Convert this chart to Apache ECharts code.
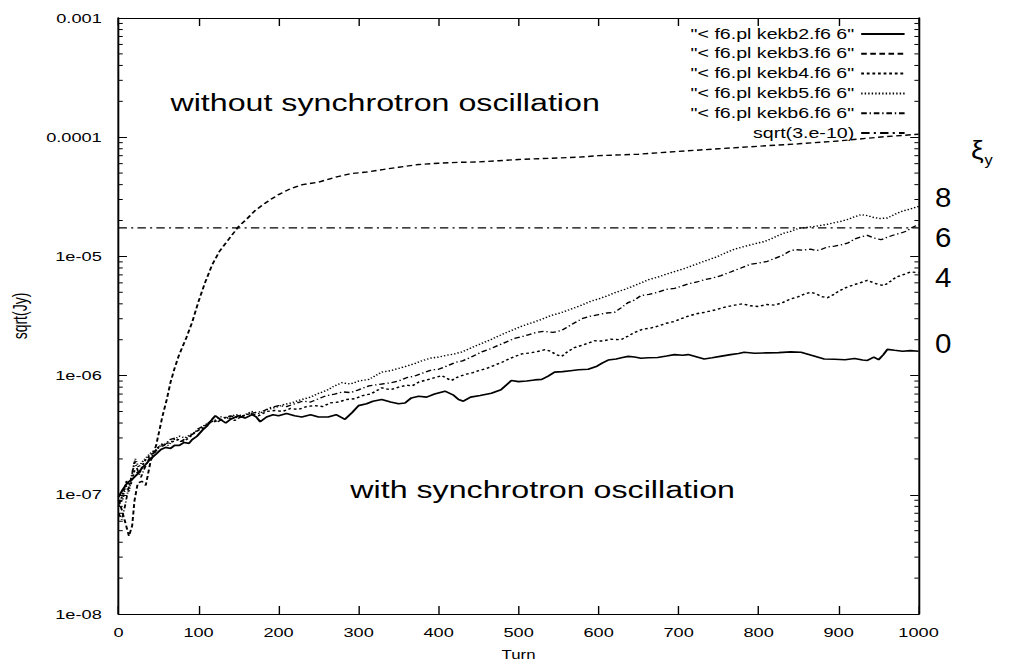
<!DOCTYPE html>
<html>
<head>
<meta charset="utf-8">
<script src="https://cdn.jsdelivr.net/npm/echarts@6/dist/echarts.min.js"></script>
<style>
  html, body { margin: 0; padding: 0; background: #fff; overflow: hidden; }
  /* the plot is laid out narrow and widened horizontally, like the printed figure */
  #chart { width: 722px; height: 671px; transform: scaleX(1.4003); transform-origin: 0 0; }
</style>
</head>
<body>
<div id="chart"></div>
<script>
// ---- data: sqrt(Jy) versus turn ----
const seriesNames = [
  '"< f6.pl kekb2.f6 6"',
  '"< f6.pl kekb3.f6 6"',
  '"< f6.pl kekb4.f6 6"',
  '"< f6.pl kekb5.f6 6"',
  '"< f6.pl kekb6.f6 6"',
  'sqrt(3.e-10)'
];

// xi_y = 0, with synchrotron oscillation
const kekb2 = [
  [0,9.6e-8],[5,1.1e-7],[11,1.26e-7],[17,1.35e-7],[24,1.5e-7],[30,1.7e-7],[34,1.8e-7],[40,2.0e-7],
  [47,2.2e-7],[53,2.4e-7],[59,2.5e-7],[65,2.45e-7],[70,2.6e-7],[76,2.6e-7],[82,2.75e-7],[88,2.7e-7],
  [92,2.9e-7],[98,3.1e-7],[105,3.5e-7],[111,3.8e-7],[117,4.3e-7],[121,4.6e-7],[127,4.3e-7],[134,4.0e-7],
  [140,4.3e-7],[150,4.6e-7],[158,4.4e-7],[167,4.7e-7],[172,4.5e-7],[177,4.1e-7],[185,4.5e-7],[193,4.7e-7],
  [200,4.6e-7],[210,4.8e-7],[220,4.6e-7],[229,4.5e-7],[240,4.7e-7],[250,4.5e-7],[262,4.5e-7],[272,4.7e-7],
  [283,4.3e-7],[292,4.9e-7],[300,5.6e-7],[310,5.8e-7],[318,6.1e-7],[329,6.3e-7],[340,6.0e-7],[350,5.8e-7],
  [358,5.9e-7],[366,6.5e-7],[375,6.7e-7],[385,6.6e-7],[395,7.0e-7],[408,7.4e-7],[418,6.9e-7],[425,6.3e-7],
  [431,6.1e-7],[440,6.6e-7],[452,6.8e-7],[466,7.1e-7],[478,7.6e-7],[491,9.1e-7],[500,8.9e-7],[510,9.0e-7],
  [520,9.2e-7],[529,9.3e-7],[537,9.9e-7],[545,1.07e-6],[555,1.08e-6],[565,1.1e-6],[575,1.12e-6],[587,1.13e-6],
  [598,1.2e-6],[605,1.28e-6],[612,1.35e-6],[622,1.38e-6],[630,1.42e-6],[637,1.45e-6],[645,1.43e-6],[653,1.4e-6],
  [662,1.41e-6],[674,1.42e-6],[685,1.46e-6],[695,1.5e-6],[705,1.48e-6],[712,1.5e-6],[722,1.44e-6],[732,1.38e-6],
  [742,1.41e-6],[752,1.45e-6],[765,1.5e-6],[775,1.53e-6],[782,1.57e-6],[795,1.54e-6],[810,1.55e-6],[825,1.56e-6],
  [840,1.58e-6],[853,1.57e-6],[866,1.48e-6],[882,1.38e-6],[895,1.37e-6],[908,1.36e-6],[920,1.39e-6],[930,1.35e-6],
  [936,1.34e-6],[944,1.43e-6],[950,1.36e-6],[956,1.5e-6],[961,1.66e-6],[970,1.63e-6],[980,1.6e-6],[990,1.62e-6],
  [1000,1.6e-6]
];

// without synchrotron oscillation
const kekb3 = [
  [0,9e-8],[4,7.5e-8],[8,6e-8],[13,4.5e-8],[17,5.5e-8],[20,9e-8],[24,1.25e-7],[29,1.3e-7],[34,1.2e-7],
  [40,1.9e-7],[47,2.6e-7],[55,4.6e-7],[60,6.2e-7],[65,8.8e-7],[70,1.15e-6],[75,1.45e-6],[80,1.75e-6],
  [85,2.1e-6],[92,2.8e-6],[100,4.2e-6],[108,6e-6],[117,8.5e-6],[126,1.1e-5],[138,1.4e-5],[150,1.78e-5],
  [160,2.05e-5],[170,2.4e-5],[180,2.7e-5],[190,3.0e-5],[200,3.3e-5],[215,3.7e-5],[230,4.0e-5],[250,4.2e-5],
  [270,4.6e-5],[290,4.95e-5],[310,5.1e-5],[330,5.35e-5],[350,5.6e-5],[375,5.9e-5],[400,6.05e-5],[425,6.15e-5],
  [450,6.2e-5],[475,6.35e-5],[500,6.5e-5],[525,6.6e-5],[550,6.7e-5],[575,6.8e-5],[600,7.0e-5],[650,7.2e-5],
  [700,7.6e-5],[750,8.0e-5],[800,8.4e-5],[850,8.8e-5],[900,9.3e-5],[950,1.0e-4],[1000,1.06e-4]
];

// xi_y = 4
const kekb4 = [
  [0,8e-8],[5,1.0e-7],[10,1.3e-7],[15,1.2e-7],[20,1.6e-7],[26,1.5e-7],[32,1.9e-7],[38,2.1e-7],[45,2.3e-7],
  [52,2.6e-7],[60,2.7e-7],[68,2.8e-7],[75,2.9e-7],[82,2.8e-7],[90,3.1e-7],[97,3.4e-7],[105,3.6e-7],[112,4.0e-7],
  [120,4.1e-7],[128,4.3e-7],[136,4.5e-7],[145,4.2e-7],[155,4.6e-7],[165,4.8e-7],[175,4.6e-7],[185,5.0e-7],
  [195,5.1e-7],[205,5.0e-7],[215,5.3e-7],[225,5.2e-7],[235,5.5e-7],[245,5.6e-7],[255,5.5e-7],[265,5.9e-7],
  [275,6.0e-7],[285,6.3e-7],[295,6.4e-7],[305,6.8e-7],[315,7.0e-7],[329,7.9e-7],[340,7.6e-7],[350,8.0e-7],
  [360,8.3e-7],[367,8.2e-7],[375,8.8e-7],[385,9.2e-7],[395,9.6e-7],[404,1.0e-6],[410,9.5e-7],[416,9.1e-7],
  [425,9.8e-7],[435,1.03e-6],[443,1.06e-6],[450,1.1e-6],[460,1.15e-6],[470,1.22e-6],[480,1.3e-6],[490,1.4e-6],
  [504,1.52e-6],[515,1.55e-6],[525,1.6e-6],[533,1.65e-6],[540,1.6e-6],[547,1.5e-6],[554,1.45e-6],[562,1.6e-6],
  [570,1.72e-6],[580,1.8e-6],[595,1.96e-6],[605,1.95e-6],[615,2.02e-6],[628,2.0e-6],[637,2.15e-6],[645,2.3e-6],
  [655,2.45e-6],[665,2.5e-6],[674,2.6e-6],[685,2.75e-6],[695,2.85e-6],[703,3.0e-6],[712,3.15e-6],[722,3.3e-6],
  [733,3.4e-6],[745,3.55e-6],[758,3.75e-6],[770,3.9e-6],[780,4.0e-6],[790,3.85e-6],[800,3.8e-6],[810,3.95e-6],
  [820,3.9e-6],[830,4.1e-6],[840,4.4e-6],[850,4.6e-6],[858,4.85e-6],[865,5.0e-6],[872,4.85e-6],[879,4.6e-6],
  [886,4.5e-6],[893,4.75e-6],[900,5.1e-6],[910,5.5e-6],[920,5.8e-6],[930,6.1e-6],[936,6.3e-6],[944,6.0e-6],
  [950,5.8e-6],[957,5.7e-6],[965,6.2e-6],[972,6.7e-6],[980,7.0e-6],[990,7.4e-6],[1000,7.3e-6]
];

// xi_y = 8 (fine dotted)
const kekb5 = [
  [0,8.5e-8],[5,9e-8],[9,1.2e-7],[13,1.05e-7],[17,1.5e-7],[21,2.0e-7],[25,1.7e-7],[30,1.9e-7],[36,2.1e-7],
  [42,2.3e-7],[48,2.4e-7],[55,2.7e-7],[62,2.6e-7],[69,2.9e-7],[76,3.1e-7],[83,3.0e-7],[90,3.2e-7],[97,3.4e-7],
  [104,3.7e-7],[112,4.0e-7],[120,4.2e-7],[128,4.5e-7],[136,4.4e-7],[146,4.7e-7],[156,4.6e-7],[166,5.0e-7],
  [176,4.8e-7],[186,5.2e-7],[196,5.4e-7],[206,5.7e-7],[216,5.9e-7],[229,6.3e-7],[240,6.6e-7],[250,7.1e-7],
  [260,7.5e-7],[270,8.2e-7],[279,8.7e-7],[290,8.5e-7],[300,9.0e-7],[313,9.3e-7],[329,1.07e-6],[340,1.1e-6],
  [350,1.15e-6],[360,1.2e-6],[370,1.26e-6],[379,1.33e-6],[390,1.4e-6],[400,1.43e-6],[410,1.48e-6],[420,1.52e-6],
  [429,1.58e-6],[440,1.7e-6],[454,1.86e-6],[465,2.0e-6],[475,2.15e-6],[485,2.3e-6],[495,2.45e-6],[504,2.6e-6],
  [515,2.75e-6],[528,2.95e-6],[541,3.2e-6],[552,3.35e-6],[565,3.6e-6],[579,3.9e-6],[590,4.2e-6],[600,4.4e-6],
  [612,4.7e-6],[622,5.0e-6],[633,5.3e-6],[645,5.7e-6],[653,6.0e-6],[663,6.4e-6],[674,6.7e-6],[685,7.1e-6],
  [696,7.5e-6],[707,7.9e-6],[718,8.4e-6],[728,8.9e-6],[738,9.4e-6],[749,1.0e-5],[760,1.08e-5],[770,1.15e-5],
  [780,1.2e-5],[790,1.25e-5],[800,1.3e-5],[807,1.33e-5],[815,1.4e-5],[825,1.5e-5],[832,1.57e-5],[840,1.62e-5],
  [850,1.72e-5],[860,1.75e-5],[869,1.78e-5],[878,1.82e-5],[886,1.86e-5],[895,1.92e-5],[903,1.97e-5],[912,2.05e-5],
  [920,2.15e-5],[928,2.24e-5],[936,2.2e-5],[944,2.12e-5],[952,2.08e-5],[961,2.1e-5],[970,2.25e-5],[980,2.4e-5],
  [990,2.5e-5],[1000,2.63e-5]
];

// xi_y = 6 (dash-dot)
const kekb6 = [
  [0,7e-8],[4,6.2e-8],[8,8e-8],[12,1.1e-7],[16,1.4e-7],[20,1.9e-7],[24,1.6e-7],[28,1.4e-7],[33,1.7e-7],
  [38,2.0e-7],[44,2.2e-7],[50,2.5e-7],[57,2.6e-7],[64,2.9e-7],[71,3.0e-7],[78,2.8e-7],[85,3.0e-7],[92,3.2e-7],
  [100,3.6e-7],[108,3.8e-7],[116,4.2e-7],[124,4.1e-7],[132,4.4e-7],[140,4.6e-7],[150,4.4e-7],[160,4.7e-7],
  [170,4.9e-7],[180,5.0e-7],[190,5.4e-7],[200,5.6e-7],[210,5.5e-7],[220,5.8e-7],[230,6.1e-7],[240,6.0e-7],
  [250,6.4e-7],[260,6.8e-7],[270,7.0e-7],[280,7.3e-7],[290,7.2e-7],[300,7.6e-7],[313,8.2e-7],[329,8.5e-7],
  [340,8.7e-7],[350,9.0e-7],[360,9.6e-7],[370,9.9e-7],[380,1.05e-6],[392,1.12e-6],[400,1.13e-6],[410,1.2e-6],
  [421,1.29e-6],[430,1.33e-6],[440,1.42e-6],[454,1.58e-6],[465,1.68e-6],[475,1.8e-6],[485,1.92e-6],[495,2.05e-6],
  [504,2.12e-6],[512,2.2e-6],[522,2.3e-6],[532,2.35e-6],[543,2.3e-6],[554,2.4e-6],[565,2.65e-6],[579,3.0e-6],
  [590,3.15e-6],[600,3.25e-6],[610,3.35e-6],[620,3.4e-6],[628,3.7e-6],[637,4.1e-6],[645,4.3e-6],[653,4.7e-6],
  [663,4.8e-6],[674,5.0e-6],[685,5.3e-6],[695,5.4e-6],[703,5.6e-6],[713,5.9e-6],[723,6.1e-6],[733,6.4e-6],
  [743,6.6e-6],[753,6.9e-6],[765,7.4e-6],[778,8.0e-6],[790,8.6e-6],[800,8.8e-6],[811,9.1e-6],[820,9.6e-6],
  [830,1.02e-5],[838,1.1e-5],[845,1.14e-5],[855,1.13e-5],[865,1.15e-5],[872,1.12e-5],[878,1.14e-5],[886,1.2e-5],
  [895,1.22e-5],[903,1.25e-5],[912,1.3e-5],[920,1.4e-5],[928,1.46e-5],[936,1.5e-5],[944,1.43e-5],[953,1.38e-5],
  [961,1.45e-5],[970,1.52e-5],[978,1.57e-5],[985,1.63e-5],[992,1.75e-5],[1000,1.85e-5]
];

// constant level sqrt(3e-10)
const sqrtLevel = [[0,1.732e-5],[1000,1.732e-5]];

// axis ticks
const xTickValues = [0,100,200,300,400,500,600,700,800,900,1000];
const yTickExponents = [-8,-7,-6,-5,-4,-3];
const yTickLabels = ['1e-08','1e-07','1e-06','1e-05','0.0001','0.001'];
const minorTickValues = [];
for (let e = -8; e < -3; e++) {
  for (let m = 2; m <= 9; m++) minorTickValues.push(m * Math.pow(10, e));
}

// xi_y labels at the right of the curves
const xiLabels = ['8','6','4','0'];
const xiLabelY = [197, 237, 277, 343];

// ---- chart ----
const FONT = '"Liberation Sans", Arial, Helvetica, sans-serif';
const INK = '#000';
const chart = echarts.init(document.getElementById('chart'), null, { renderer: 'svg' });

const styles = [
  { type: 'solid', width: 1.6 },
  { type: [4, 2.5], width: 1.4 },
  { type: [2, 2], width: 1.4 },
  { type: [1, 1.5], width: 1.4 },
  { type: [4, 2, 1, 2], width: 1.3 },
  { type: [6, 3, 1.5, 3], width: 1.2 }
];
const seriesData = [kekb2, kekb3, kekb4, kekb5, kekb6, sqrtLevel];

const legendRows = [34, 53.8, 73.6, 93.4, 113.2, 133];

const lineSeries = seriesData.map((d, i) => ({
  name: seriesNames[i],
  type: 'line',
  data: d,
  symbol: 'none',
  showSymbol: false,
  xAxisIndex: 0,
  yAxisIndex: 0,
  lineStyle: { color: INK, width: styles[i].width, type: styles[i].type },
  itemStyle: { color: INK, opacity: 0 },
  emphasis: { disabled: true },
  z: 3
}));

const minorTicks = {
  type: 'custom',
  silent: true,
  xAxisIndex: 0,
  yAxisIndex: 0,
  data: minorTickValues.map(v => [0, v]),
  renderItem: function (params, api) {
    const v = api.value(1);
    const l = api.coord([0, v]);
    const r = api.coord([1000, v]);
    return {
      type: 'group',
      children: [
        { type: 'line', shape: { x1: l[0], y1: l[1], x2: l[0] + 3, y2: l[1] }, style: { stroke: INK, lineWidth: 1 } },
        { type: 'line', shape: { x1: r[0] - 3, y1: r[1], x2: r[0], y2: r[1] }, style: { stroke: INK, lineWidth: 1 } }
      ]
    };
  },
  z: 4
};

const xAxisBase = {
  type: 'value', min: 0, max: 1000, interval: 100,
  axisLine: { show: true, onZero: false, lineStyle: { color: INK, width: 1.2 } },
  axisTick: { show: true, inside: true, length: 8, lineStyle: { color: INK, width: 1 } },
  splitLine: { show: false }
};
const yAxisBase = {
  type: 'log', logBase: 10, min: 1e-8, max: 1e-3, splitNumber: 5,
  axisLine: { show: true, onZero: false, lineStyle: { color: INK, width: 1.4 } },
  axisTick: { show: true, inside: true, length: 6, lineStyle: { color: INK, width: 1 } },
  splitLine: { show: false },
  minorTick: { show: false }
};

const option = {
  animation: false,
  backgroundColor: '#fff',
  grid: { left: 83, right: 66, top: 18, bottom: 57, containLabel: false },
  xAxis: [
    Object.assign({}, xAxisBase, {
      position: 'bottom',
      name: 'Turn', nameLocation: 'middle', nameGap: 35,
      nameTextStyle: { fontSize: 12, color: INK, fontFamily: FONT },
      axisLabel: {
        show: true, margin: 12, fontSize: 13, color: INK, fontFamily: FONT,
        formatter: function (v) {
          return xTickValues.indexOf(v) >= 0 ? String(v) : '';
        }
      }
    }),
    Object.assign({}, xAxisBase, { position: 'top', axisLabel: { show: false } })
  ],
  yAxis: [
    Object.assign({}, yAxisBase, {
      position: 'left',
      name: 'sqrt(Jy)', nameLocation: 'middle', nameRotate: 90, nameGap: 62,
      nameTextStyle: { fontSize: 14, color: INK, fontFamily: FONT },
      axisLabel: {
        show: true, margin: 12, fontSize: 13, color: INK, fontFamily: FONT,
        formatter: function (v) {
          const idx = yTickExponents.indexOf(Math.round(Math.log10(v)));
          return idx >= 0 ? yTickLabels[idx] : '';
        }
      }
    }),
    Object.assign({}, yAxisBase, { position: 'right', axisLabel: { show: false } })
  ],
  legend: seriesNames.map((name, i) => ({
    data: [name],
    orient: 'vertical',
    align: 'right',
    right: 75,
    top: legendRows[i] - 7,
    padding: 0,
    itemWidth: 31,
    itemHeight: 14,
    selectedMode: false,
    itemStyle: { opacity: 0, borderWidth: 0 },
    textStyle: { fontSize: 14, color: INK, fontFamily: FONT }
  })),
  graphic: [
    { type: 'text', x: 275, y: 103, silent: true,
      style: { text: 'without synchrotron oscillation', fontSize: 23, fontFamily: FONT, fill: INK,
               textAlign: 'center', textVerticalAlign: 'middle' } },
    { type: 'text', x: 387.5, y: 490, silent: true,
      style: { text: 'with synchrotron oscillation', fontSize: 23, fontFamily: FONT, fill: INK,
               textAlign: 'center', textVerticalAlign: 'middle' } },
    { type: 'text', x: 698, y: 150, scaleX: 0.78, silent: true,
      style: { text: 'ξ', fontSize: 26, fontFamily: FONT, fill: INK, textAlign: 'center', textVerticalAlign: 'middle' } },
    { type: 'text', x: 706, y: 160, scaleX: 0.78, silent: true,
      style: { text: 'y', fontSize: 15, fontFamily: FONT, fill: INK, textAlign: 'center', textVerticalAlign: 'middle' } }
  ].concat(xiLabels.map((t, i) => ({
    type: 'text', x: 673.6, y: xiLabelY[i], scaleX: 0.78, silent: true,
    style: { text: t, fontSize: 27, fontFamily: FONT, fill: INK, textAlign: 'center', textVerticalAlign: 'middle' }
  }))),
  series: lineSeries.concat([minorTicks])
};

chart.setOption(option);
</script>
</body>
</html>
